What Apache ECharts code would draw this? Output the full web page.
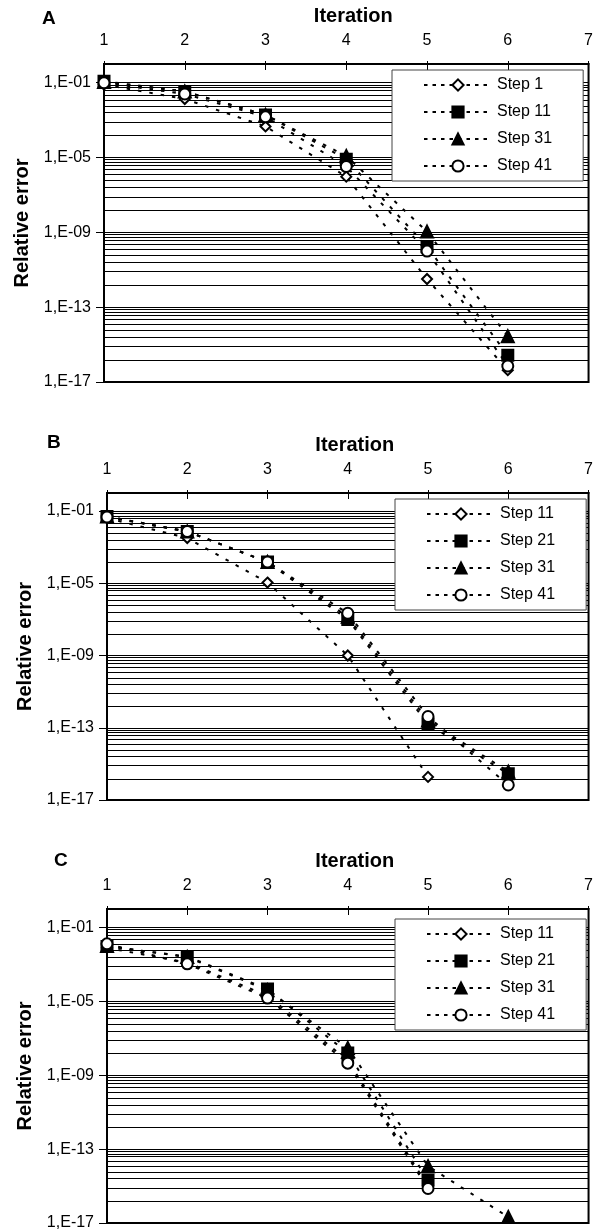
<!DOCTYPE html>
<html><head><meta charset="utf-8">
<script src="https://cdn.jsdelivr.net/npm/echarts@6/dist/echarts.min.js"></script>
<style>html,body{margin:0;padding:0;background:#fff}#c{width:596px;height:1232px}</style>
</head><body><div id="c"></div>
<script>
// ---- data ----
const iterations = [1, 2, 3, 4, 5, 6];
const yLabelValues = [1e-17, 1e-13, 1e-9, 1e-5, 1e-1];
const gridMajors = [1e-17, 1e-13, 1e-9, 1e-5];
const minorOffsets = [1.17, 1.9, 2.4, 2.76, 3.08, 3.35, 3.59, 3.74, 3.89]; // decades above each major
const panelLetters = ['A', 'B', 'C'];
const namesA = ['Step 1', 'Step 11', 'Step 31', 'Step 41'];
const namesB = ['Step 11', 'Step 21', 'Step 31', 'Step 41'];
const namesC = ['Step 11', 'Step 21', 'Step 31', 'Step 41'];

const A_step1  = [8e-2, 1.35e-2, 4.6e-4, 9.5e-7, 3.2e-12, 4.3e-17];
const A_step11 = [1.2e-1, 3.4e-2, 1.9e-3, 8.1e-6, 1.7e-10, 2.7e-16];
const A_step31 = [1.1e-1, 3.4e-2, 1.9e-3, 1.2e-5, 1.1e-9, 2.8e-15];
const A_step41 = [1.0e-1, 2.5e-2, 1.5e-3, 3.3e-6, 1.0e-10, 7.2e-17];

const B_step11 = [4.1e-2, 3.2e-3, 1.1e-5, 1.0e-9, 1.9e-16];
const B_step21 = [5.0e-2, 7.4e-3, 1.5e-4, 1.0e-7, 1.6e-13, 2.8e-16];
const B_step31 = [5.0e-2, 7.4e-3, 1.5e-4, 1.4e-7, 2.5e-13, 3.7e-16];
const B_step41 = [4.7e-2, 7.4e-3, 1.5e-4, 2.2e-7, 4.2e-13, 6.8e-17];

const C_step11 = [7.9e-3, 1.26e-3, 2.0e-5, 6.3e-9, 1.0e-15];
const C_step21 = [9.3e-3, 2.7e-3, 4.6e-5, 1.6e-8, 2.1e-15];
const C_step31 = [1.0e-2, 2.5e-3, 4.0e-5, 3.0e-8, 1.2e-14, 2.1e-17];
const C_step41 = [1.3e-2, 1.07e-3, 1.5e-5, 4.5e-9, 7.4e-16];

const panels = [
  { names: namesA, values: [A_step1, A_step11, A_step31, A_step41] },
  { names: namesB, values: [B_step11, B_step21, B_step31, B_step41] },
  { names: namesC, values: [C_step11, C_step21, C_step31, C_step41] }
];

// ---- layout / style ----
const FONT = '"Liberation Sans", Arial, sans-serif';
const grids = [
  { left: 104, top: 64, width: 489, height: 318 },
  { left: 107, top: 493, width: 488, height: 307 },
  { left: 107, top: 909, width: 488, height: 314 }
];
const legendPos = [
  { left: 392, top: 70 },
  { left: 395, top: 499 },
  { left: 395, top: 919 }
];
const letterPos = [
  { left: 42, top: 9 },
  { left: 47, top: 433 },
  { left: 54, top: 851 }
];
const symbols = ['diamond', 'rect', 'triangle', 'circle'];
const fills = ['#fff', '#000', '#000', '#fff'];
const sizes = [10, 11, 12, 11];

const gridValues = [];
gridMajors.forEach(m => {
  if (m > 1e-17) gridValues.push(m);
  minorOffsets.forEach(o => gridValues.push(m * Math.pow(10, o)));
});
gridValues.push(1e-1);

function fmt(v) {
  const e = Math.round(Math.log10(v));
  const a = Math.abs(e);
  return '1,E' + (e < 0 ? '-' : '+') + (a < 10 ? '0' + a : a);
}

const option = {
  animation: false,
  backgroundColor: '#fff',
  textStyle: { fontFamily: FONT },
  grid: grids.map(g => Object.assign({ show: true, borderColor: '#000', borderWidth: 2, backgroundColor: 'transparent' }, g)),
  xAxis: [],
  yAxis: [],
  legend: [],
  series: [],
  graphic: []
};

panels.forEach((p, i) => {
  const key = panelLetters[i] + ':';
  option.xAxis.push({
    type: 'value', gridIndex: i, position: 'top', min: 1, max: 7, interval: 1,
    axisLine: { show: true, lineStyle: { color: '#000', width: 2 } },
    axisTick: { show: true, inside: true, length: 6, lineStyle: { color: '#000', width: 1 } },
    axisLabel: { fontSize: 16, color: '#000', fontFamily: FONT, margin: 15 },
    splitLine: { show: false },
    name: 'Iteration', nameLocation: 'middle', nameGap: 38,
    nameTextStyle: { fontSize: 20, fontWeight: 'bold', color: '#000', fontFamily: FONT, padding: [0, 0, 0, 14] }
  });
  option.xAxis.push({
    type: 'value', gridIndex: i, position: 'top', min: 1, max: 7, interval: 1,
    axisLine: { show: false }, axisLabel: { show: false }, splitLine: { show: false },
    axisTick: { show: true, inside: false, length: 3, lineStyle: { color: '#000', width: 1 } }
  });
  option.yAxis.push({
    type: 'log', logBase: 10, gridIndex: i, position: 'left', min: 1e-17, max: 1,
    axisLine: { show: true, lineStyle: { color: '#000', width: 2 } },
    axisTick: { show: true, customValues: yLabelValues, length: 8, lineStyle: { color: '#000', width: 1 } },
    axisLabel: { customValues: yLabelValues, formatter: fmt, fontSize: 16, color: '#000', fontFamily: FONT, margin: 13 },
    splitLine: { show: false }, minorTick: { show: false },
    name: 'Relative error', nameLocation: 'middle', nameGap: 70,
    nameTextStyle: { fontSize: 20, fontWeight: 'bold', color: '#000', fontFamily: FONT }
  });
  option.yAxis.push({
    type: 'log', logBase: 10, gridIndex: i, position: 'right', min: 1e-17, max: 1,
    axisLine: { show: false }, axisLabel: { show: false },
    axisTick: { show: false, customValues: gridValues },
    splitLine: { show: true, lineStyle: { color: '#000', width: 1 } }
  });
  option.legend.push(Object.assign({
    data: p.names.map(n => key + n), orient: 'vertical', padding: [7, 31], itemGap: 11,
    itemWidth: 68, itemHeight: 14, backgroundColor: '#fff', borderColor: '#444', borderWidth: 1,
    selectedMode: false, borderRadius: 0,
    formatter: name => name.slice(key.length),
    lineStyle: { type: [3.5, 5], width: 2 },
    textStyle: { fontSize: 16, color: '#000', fontFamily: FONT, lineHeight: 16 }
  }, legendPos[i]));
  p.values.forEach((vals, k) => {
    option.series.push({
      type: 'line', name: key + p.names[k], xAxisIndex: 2 * i, yAxisIndex: 2 * i,
      data: vals.map((v, j) => [iterations[j], v]),
      symbol: symbols[k], symbolSize: sizes[k], showSymbol: true,
      itemStyle: { color: fills[k], borderColor: '#000', borderWidth: 2 },
      lineStyle: { color: '#000', width: 2, type: [3.5, 8] },
      z: 3 + k
    });
  });
  option.graphic.push({
    type: 'text', left: letterPos[i].left, top: letterPos[i].top,
    style: { text: panelLetters[i], font: 'bold 19px ' + FONT, fill: '#000' }
  });
});

const chart = echarts.init(document.getElementById('c'), null, { renderer: 'canvas' });
chart.setOption(option);
</script>
</body></html>
